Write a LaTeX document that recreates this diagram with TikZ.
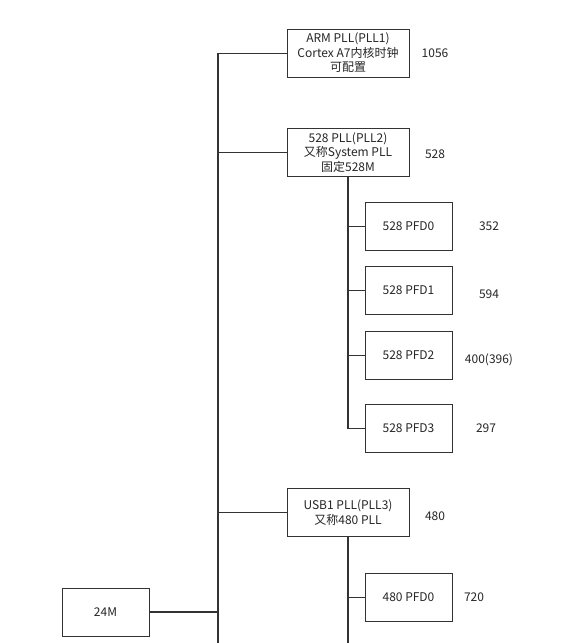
\documentclass[tikz,border=0pt]{standalone}
\usepackage{fontspec}
\setmainfont{Noto Sans CJK SC}
\definecolor{linec}{HTML}{333333}
\definecolor{txtc}{HTML}{262626}
\begin{document}
\begin{tikzpicture}[x=1pt,y=-1pt,
  box/.style={draw=linec, line width=1pt, fill=white, inner sep=0pt, align=center,
    font=\fontsize{12}{14.5}\selectfont, text=txtc},
  bigbox/.style={box, minimum width=122pt, minimum height=48pt},
  smallbox/.style={box, minimum width=87pt, minimum height=48pt},
  val/.style={inner sep=0pt, font=\fontsize{12}{14}\selectfont, text=txtc},
  wire/.style={draw=linec, line width=1.5pt},
  branch/.style={draw=linec, line width=1pt}]
\fill[white] (0,0) rectangle (564,643);
\useasboundingbox (0,0) rectangle (564,643);

% boxes
\node[bigbox] (arm) at (348,53) {ARM PLL(PLL1)\\Cortex A7内核时钟\\可配置};
\node[bigbox] (pll2) at (348,152.5) {528 PLL(PLL2)\\又称System PLL\\固定528M};
\node[smallbox] (pfd0) at (408.5,226) {528 PFD0};
\node[smallbox] (pfd1) at (408.5,290.5) {528 PFD1};
\node[smallbox] (pfd2) at (408.5,355) {528 PFD2};
\node[smallbox] (pfd3) at (408.5,428.5) {528 PFD3};
\node[bigbox] (usb) at (348,512.5) {USB1 PLL(PLL3)\\又称480 PLL};
\node[smallbox] (upfd0) at (408.5,597.5) {480 PFD0};
\node[smallbox] (osc) at (105.5,612) {24M};

% values
\node[val] (varm) at (435,53) {1056};
\node[val] (vpll2) at (435,154) {528};
\node[val] (vpfd0) at (489,226) {352};
\node[val] (vpfd1) at (489,294) {594};
\node[val] (vpfd2) at (489,360) {400(396)};
\node[val] (vpfd3) at (486,428) {297};
\node[val] (vusb) at (435,516) {480};
\node[val] (vupfd0) at (474,597) {720};

% trunk
\coordinate (trunktop) at (218,53);
\coordinate (trunkbot) at (218,643);
\coordinate (usbbot) at (348,643);

\draw[wire] (trunktop) -- (trunkbot);
\draw[branch] (arm.west) -- (arm.west -| trunktop);
\draw[branch] (pll2.west) -- (pll2.west -| trunktop);
\draw[branch] (usb.west) -- (usb.west -| trunktop);
\draw[wire] (osc.east) -- (osc.east -| trunktop);

% 528 PLL branch
\draw[wire] (pll2.south) -- (pll2.south |- pfd3.west);
\foreach \n in {pfd0,pfd1,pfd2,pfd3}
  \draw[branch] (\n.west) -- (\n.west -| pll2.south);

% 480 PLL branch
\draw[wire] (usb.south) -- (usb.south |- usbbot);
\draw[branch] (upfd0.west) -- (upfd0.west -| usb.south);
\end{tikzpicture}
\end{document}
